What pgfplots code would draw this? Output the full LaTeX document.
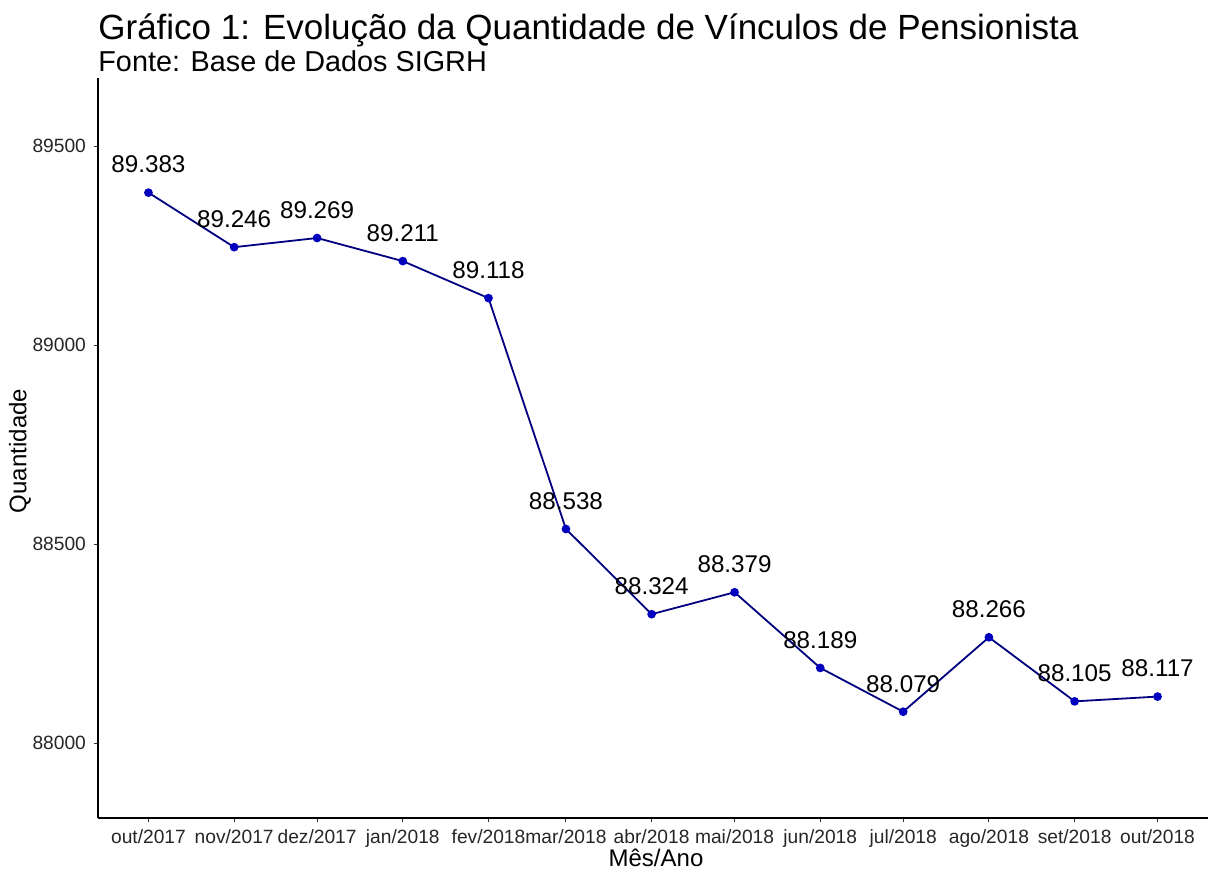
\documentclass[border=0pt]{standalone}
\usepackage{pgfplots}
\pgfplotsset{compat=1.18}
\usepackage{fontspec}
\setmainfont{Liberation Sans}
\definecolor{linenavy}{RGB}{0,0,128}
\definecolor{ptblue}{RGB}{0,0,190}
\begin{document}
\begin{tikzpicture}
\begin{axis}[
    scale only axis,
    width=555pt, height=370pt,
    at={(0,0)}, anchor=south west,
    xmin=-18.25, xmax=383.25,
    ymin=87812, ymax=89671,
    axis lines=left,
    axis line style={-, line width=0.9pt, black},
    clip=false,
    scaled y ticks=false,
    xtick={0,31,61,92,123,151,182,212,243,273,304,335,365},
    xticklabels={out/2017,nov/2017,dez/2017,jan/2018,fev/2018,mar/2018,abr/2018,mai/2018,jun/2018,jul/2018,ago/2018,set/2018,out/2018},
    ytick={88000,88500,89000,89500},
    yticklabel style={/pgf/number format/1000 sep={}, /pgf/number format/fixed, xshift=-0.5pt},
    /pgf/number format/assume math mode=true,
    tick label style={font=\fontsize{9.6}{12}\selectfont, text=black!85},
    tick align=outside,
    major tick length=2pt,
    tick style={black!80, line width=0.5pt},
    xticklabel style={yshift=-0.5pt},
]
\addplot[linenavy, line width=0.9pt, mark=*, mark size=1.7pt,
    mark options={fill=ptblue, draw=ptblue},
    nodes near coords={\pgfmathprintnumber[1000 sep={.},assume math mode=true]{\pgfplotspointmeta}},
    every node near coord/.style={anchor=center, yshift=14pt, inner sep=0pt, font=\fontsize{12.1}{14}\selectfont, text=black}]
coordinates {
    (0,   89383)
    (31,  89246)
    (61,  89269)
    (92,  89211)
    (123, 89118)
    (151, 88538)
    (182, 88324)
    (212, 88379)
    (243, 88189)
    (273, 88079)
    (304, 88266)
    (335, 88105)
    (365, 88117)
};
\end{axis}
\node[anchor=base west, inner sep=0pt, font=\fontsize{17.5}{20}\selectfont] at (0pt,389pt) {Gráfico 1: Evolução da Quantidade de Vínculos de Pensionista};
\node[anchor=base west, inner sep=0pt, font=\fontsize{14.4}{17}\selectfont] at (0pt,373pt) {Fonte: Base de Dados SIGRH};
\node[rotate=90, inner sep=0pt, font=\fontsize{12}{14}\selectfont] at (-39pt,183.5pt) {Quantidade};
\node[inner sep=0pt, font=\fontsize{12}{14}\selectfont] at (279pt,-20pt) {Mês/Ano};
\pgfresetboundingbox
\path[use as bounding box] (-49pt,-26pt) rectangle (555pt,409pt);
\end{tikzpicture}
\end{document}
